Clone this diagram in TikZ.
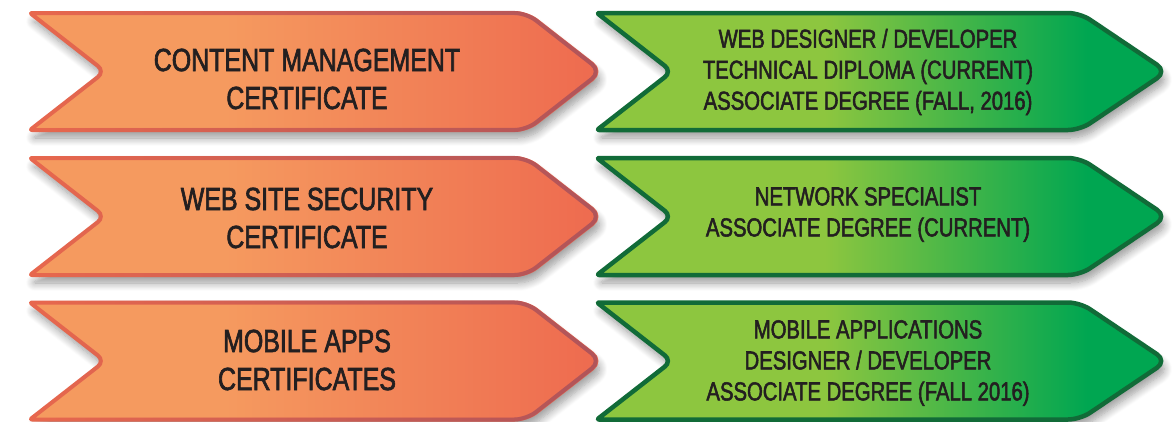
\documentclass[tikz,border=0pt]{standalone}
\usepackage{fontspec}
\setmainfont{Liberation Sans}[FakeStretch=0.78,FakeBold=2]
\usepackage{tikz}
\usetikzlibrary{shadows.blur,fadings}

\definecolor{orangeL}{HTML}{F59A5F}
\definecolor{orangeR}{HTML}{EE6A4F}
\definecolor{orangeEdgeL}{HTML}{E8684E}
\definecolor{orangeEdgeR}{HTML}{B0545A}
\definecolor{greenL}{HTML}{8DC63F}
\definecolor{greenR}{HTML}{00A651}
\definecolor{greenEdge}{HTML}{116B38}
\definecolor{ink}{HTML}{231F20}

\pgfdeclarehorizontalshading{orangeshade}{100bp}{color(0bp)=(orangeL); color(42bp)=(orangeL); color(75bp)=(orangeR); color(100bp)=(orangeR)}
\pgfdeclarehorizontalshading{greenshade}{100bp}{color(0bp)=(greenL); color(45bp)=(greenL); color(68bp)=(greenR); color(100bp)=(greenR)}
\tikzfading[name=fade in right, left color=transparent!100, right color=transparent!0]

\tikzstyle{shadowed}=[blur shadow={shadow xshift=3pt, shadow yshift=-8pt, shadow blur radius=8pt, shadow blur steps=10, shadow opacity=40}]
\tikzstyle{certfill}=[shading=orangeshade, shadowed]
\tikzstyle{certedge}=[line width=4pt, line join=round]
\tikzstyle{degfill}=[shading=greenshade, shadowed]
\tikzstyle{degedge}=[draw=greenEdge, line width=4.5pt, line join=round]
\tikzstyle{certtext}=[text=ink, align=center, font=\fontsize{32}{38}\selectfont]
\tikzstyle{degtext}=[text=ink, align=center, font=\fontsize{26}{31}\selectfont]

\begin{document}
\begin{tikzpicture}[x=1pt,y=-1pt]
  \useasboundingbox (0,0) rectangle (1173,421);
  % orange certificate arrows
  \foreach \m in {71.5,216.5,361}{
    \shade[certfill] (30,\m-58.5) [rounded corners=12pt] -- (527,\m-58.5) -- (602,\m)
      -- (527,\m+58.5) [rounded corners=2pt] -- (30,\m+58.5) [rounded corners=9pt] -- (105,\m)
      [rounded corners=2pt] -- cycle;
    \draw[certedge, draw=orangeEdgeL] (30,\m-58.5) [rounded corners=12pt] -- (527,\m-58.5) -- (602,\m)
      -- (527,\m+58.5) [rounded corners=2pt] -- (30,\m+58.5) [rounded corners=9pt] -- (105,\m)
      [rounded corners=2pt] -- cycle;
    \draw[certedge, draw=orangeEdgeR, path fading=fade in right] (30,\m-58.5) [rounded corners=12pt] -- (527,\m-58.5) -- (602,\m)
      -- (527,\m+58.5) [rounded corners=2pt] -- (30,\m+58.5) [rounded corners=9pt] -- (105,\m)
      [rounded corners=2pt] -- cycle;
  }
  % green degree arrows
  \foreach \m in {71.5,216.5,361}{
    \shade[degfill] (597,\m-58.5) [rounded corners=12pt] -- (1080,\m-58.5) -- (1167,\m)
      -- (1080,\m+58.5) [rounded corners=2pt] -- (597,\m+58.5) [rounded corners=9pt] -- (672,\m)
      [rounded corners=2pt] -- cycle;
    \draw[degedge] (597,\m-58.5) [rounded corners=12pt] -- (1080,\m-58.5) -- (1167,\m)
      -- (1080,\m+58.5) [rounded corners=2pt] -- (597,\m+58.5) [rounded corners=9pt] -- (672,\m)
      [rounded corners=2pt] -- cycle;
  }

  \node[certtext] (cms) at (307,79) {CONTENT MANAGEMENT\\CERTIFICATE};
  \node[certtext] (sec) at (307,218) {WEB SITE SECURITY\\CERTIFICATE};
  \node[certtext] (apps) at (307,360) {MOBILE APPS\\CERTIFICATES};

  \node[degtext] (webdev) at (868,72) {WEB DESIGNER / DEVELOPER\\TECHNICAL DIPLOMA (CURRENT)\\ASSOCIATE DEGREE (FALL, 2016)};
  \node[degtext] (netspec) at (868,214.5) {NETWORK SPECIALIST\\ASSOCIATE DEGREE (CURRENT)};
  \node[degtext] (mobdev) at (868,363) {MOBILE APPLICATIONS\\DESIGNER / DEVELOPER\\ASSOCIATE DEGREE (FALL 2016)};
\end{tikzpicture}
\end{document}
